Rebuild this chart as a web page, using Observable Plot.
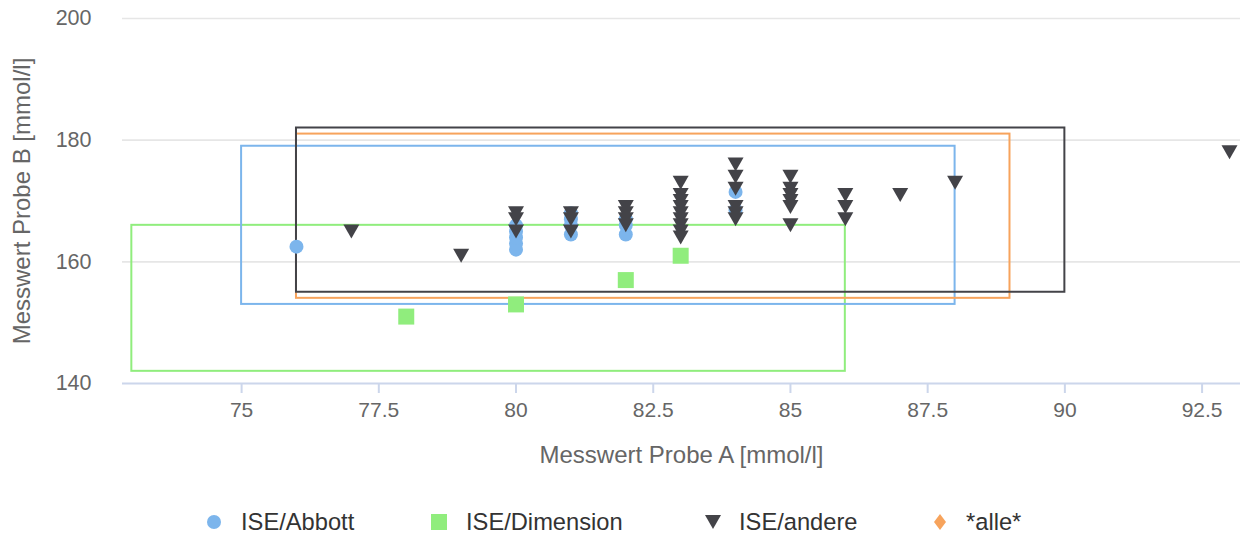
<!DOCTYPE html>
<html>
<head>
<meta charset="utf-8">
<script src="https://cdn.jsdelivr.net/npm/d3@7"></script>
<script src="https://cdn.jsdelivr.net/npm/@observablehq/plot@0.6"></script>
<style>
  html, body { margin: 0; padding: 0; background: #fff; overflow: hidden; }
  body { width: 1242px; height: 543px; font-family: "Liberation Sans", Arial, Helvetica, sans-serif; }
  #legend { position: relative; height: 53px; width: 1242px; }
  .item { position: absolute; top: 20px; height: 24px; line-height: 24px; font-size: 23.7px; color: #333333; white-space: nowrap; }
  .sym { position: absolute; top: 0; }
</style>
</head>
<body>
<div id="chart"></div>
<div id="legend"></div>
<script>
// ---- data ----
const seriesNames = ["ISE/Abbott", "ISE/Dimension", "ISE/andere", "*alle*"];
const seriesColors = ["#7cb5ec", "#90ed7d", "#434348", "#f7a35c"];

const abbottX = [76, 80, 80, 80, 80, 80, 81, 81, 81, 81, 82, 82, 82, 84, 84];
const abbottY = [162.5, 162, 163, 164, 165, 166, 164.5, 166, 167, 168, 164.5, 166, 167, 171.5, 168.5];

const dimensionX = [78, 80, 82, 83];
const dimensionY = [151, 153, 157, 161];

const andereX = [77, 79, 80, 80, 80, 81, 81, 81, 82, 82, 82, 82,
  83, 83, 83, 83, 83, 83, 83, 83, 83,
  84, 84, 84, 84, 84, 84,
  85, 85, 85, 85, 85, 85,
  86, 86, 86, 87, 88, 93];
const andereY = [165, 161, 168, 167, 165, 168, 167, 165, 169, 168, 167, 166,
  173, 171, 170, 169, 168, 167, 166, 165, 164,
  176, 174, 172, 169, 168, 167,
  174, 172, 171, 170, 169, 166,
  171, 169, 167, 171, 173, 178];

// range boxes per series
const boxSeries = ["ISE/Dimension", "ISE/Abbott", "*alle*", "ISE/andere"];
const boxX1 = [73, 75, 76, 76];
const boxX2 = [86, 88, 89, 90];
const boxY1 = [142, 153, 154, 155];
const boxY2 = [166, 179, 181, 182];

const xTicks = [75, 77.5, 80, 82.5, 85, 87.5, 90, 92.5];
const xTickLabels = ["75", "77.5", "80", "82.5", "85", "87.5", "90", "92.5"];
const yTicks = [140, 160, 180, 200];
const xDomain = [72.83, 93.2];
const yDomain = [140, 200];
const xTitle = "Messwert Probe A [mmol/l]";
const yTitle = "Messwert Probe B [mmol/l]";

// ---- build tables ----
const zip = (xs, ys) => xs.map((x, i) => ({x, y: ys[i]}));
const abbott = zip(abbottX, abbottY);
const dimension = zip(dimensionX, dimensionY);
const andere = zip(andereX, andereY);
const boxes = boxSeries.map((s, i) => ({s, x1: boxX1[i], x2: boxX2[i], y1: boxY1[i], y2: boxY2[i]}));

const triangleDown = {
  draw(ctx, size) {
    const r = Math.sqrt(size / Math.PI);
    const h = r * 0.875;
    ctx.moveTo(-r, -h); ctx.lineTo(r, -h); ctx.lineTo(0, h); ctx.closePath();
  }
};
const squareSym = {
  draw(ctx, size) {
    const r = Math.sqrt(size / Math.PI);
    ctx.moveTo(-r, -r); ctx.lineTo(r, -r); ctx.lineTo(r, r); ctx.lineTo(-r, r); ctx.closePath();
  }
};

const W = 1242, H = 490, mL = 122, mR = 2, mT = 18, mB = 107;

const chart = Plot.plot({
  width: W, height: H,
  marginLeft: mL, marginRight: mR, marginTop: mT, marginBottom: mB,
  style: {fontFamily: '"Liberation Sans", Arial, Helvetica, sans-serif', fontSize: "21px", color: "#666666", background: "#fff"},
  x: {domain: xDomain, ticks: xTicks},
  y: {domain: yDomain, ticks: yTicks},
  color: {domain: seriesNames, range: seriesColors},
  marks: [
    Plot.gridY(yTicks.filter(d => d !== 140), {stroke: "#e6e6e6", strokeOpacity: 1, strokeWidth: 1.6}),
    Plot.ruleY([140], {stroke: "#ccd6eb", strokeWidth: 2}),
    Plot.axisX(xTicks, {tickSize: 10, tickPadding: 9, stroke: "#ccd6eb", strokeWidth: 2, fill: "#666666", label: null, fontSize: 21,
      tickFormat: (d) => xTickLabels[xTicks.indexOf(d)]}),
    Plot.axisY(yTicks, {tickSize: 0, tickPadding: 31, fill: "#666666", label: null, fontSize: 21.5}),
    Plot.rect(boxes, {x1: "x1", x2: "x2", y1: "y1", y2: "y2", stroke: "s", fill: "none", strokeWidth: 2}),
    Plot.dot(abbott, {x: "x", y: "y", r: 7, fill: seriesColors[0], stroke: "none"}),
    Plot.dot(dimension, {x: "x", y: "y", r: 8, symbol: squareSym, fill: seriesColors[1], stroke: "none"}),
    Plot.dot(andere, {x: "x", y: "y", r: 8, symbol: triangleDown, fill: seriesColors[2], stroke: "none"}),
    Plot.text([xTitle], {frameAnchor: "bottom", dy: 72, lineAnchor: "middle", fontSize: 24, fill: "#666666"}),
    Plot.text([yTitle], {frameAnchor: "left", dx: -100, rotate: -90, textAnchor: "middle", lineAnchor: "middle", fontSize: 24, fill: "#666666"})
  ]
});
document.getElementById("chart").appendChild(chart);

// ---- legend (HTML below the svg) ----
const legend = document.getElementById("legend");
const symCenters = [214, 439, 713, 940];
const textStarts = [241, 466, 739, 966];
const symSvg = [
  `<svg width="16" height="24"><circle cx="8" cy="12" r="7" fill="${seriesColors[0]}"/></svg>`,
  `<svg width="16" height="24"><rect x="0" y="4" width="16" height="16" fill="${seriesColors[1]}"/></svg>`,
  `<svg width="16" height="24"><path d="M0,5L16,5L8,19Z" fill="${seriesColors[2]}"/></svg>`,
  `<svg width="16" height="24"><path d="M8,4L14,12L8,20L2,12Z" fill="${seriesColors[3]}"/></svg>`
];
seriesNames.forEach((name, i) => {
  const s = document.createElement("div");
  s.className = "item sym";
  s.style.left = (symCenters[i] - 8) + "px";
  s.style.top = "20px";
  s.innerHTML = symSvg[i];
  legend.appendChild(s);
  const t = document.createElement("div");
  t.className = "item";
  t.style.left = textStarts[i] + "px";
  t.textContent = name;
  legend.appendChild(t);
});
</script>
</body>
</html>
